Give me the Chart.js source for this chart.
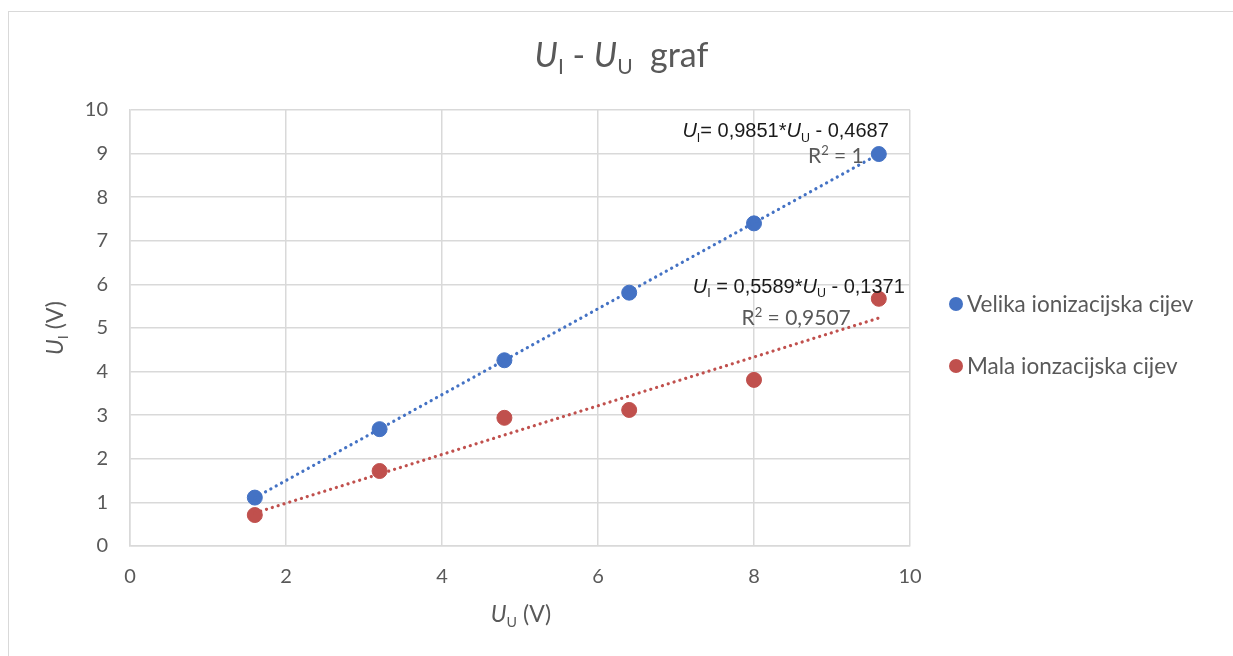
<!DOCTYPE html>
<html>
<head>
<meta charset="utf-8">
<script src="https://cdn.jsdelivr.net/npm/chart.js@4.4.1/dist/chart.umd.min.js"></script>
<style>
    html, body { margin: 0; padding: 0; background: #fff; }
    .frame { position: absolute; left: 8px; top: 11px; width: 1240px; height: 660px;
             border-left: 1px solid #d9d9d9; border-top: 1px solid #d9d9d9; }
    #chart { position: absolute; left: 0; top: 0; }
</style>
</head>
<body>
<div class="frame"></div>
<canvas id="chart" width="1233" height="656"></canvas>
<script>
const seriesNames = ['Velika ionizacijska cijev', 'Mala ionzacijska cijev'];
const seriesColors = ['#4472C4', '#C0504D'];
const xValues = [1.6, 3.2, 4.8, 6.4, 8.0, 9.6];
const velikaValues = [1.11, 2.68, 4.26, 5.81, 7.40, 8.99];
const malaValues = [0.71, 1.72, 2.94, 3.12, 3.81, 5.67];
const trendSlopes = [0.9851, 0.5589];
const trendIntercepts = [-0.4687, -0.1371];
const trendEquations = ['0,9851*', '0,5589*'];
const trendOffsets = [' - 0,4687', ' - 0,1371'];
const rSquared = ['1', '0,9507'];
const xTicks = [0, 2, 4, 6, 8, 10];
const yTicks = [0, 1, 2, 3, 4, 5, 6, 7, 8, 9, 10];

const FONT = 'Lato, "Open Sans", sans-serif';
const ARIAL = '"Liberation Sans", Arial, sans-serif';
const GREY = '#595959';

const allSeries = [velikaValues, malaValues];

const datasets = [];
allSeries.forEach((values, i) => {
    const xFirst = xValues[0];
    const xLast = xValues[xValues.length - 1];
    datasets.push({
        label: seriesNames[i] + ' trend',
        data: [
            { x: xFirst, y: trendSlopes[i] * xFirst + trendIntercepts[i] },
            { x: xLast, y: trendSlopes[i] * xLast + trendIntercepts[i] }
        ],
        showLine: true,
        borderColor: seriesColors[i],
        borderWidth: 3.2,
        borderDash: [0.1, 6],
        borderCapStyle: 'round',
        pointRadius: 0,
        order: 0
    });
    datasets.push({
        label: seriesNames[i],
        data: xValues.map((x, k) => ({ x: x, y: values[k] })),
        backgroundColor: seriesColors[i],
        borderColor: seriesColors[i],
        pointRadius: 7.5,
        order: 1
    });
});

// draw text made of pieces: italic, subscript, superscript
function drawRich(ctx, parts, x, y, align, size, family, color) {
    const fontFor = p => (p.i ? 'italic ' : '') + ((p.sub || p.sup) ? size * 0.62 : size) + 'px ' + family;
    let total = 0;
    parts.forEach(p => { ctx.font = fontFor(p); total += ctx.measureText(p.t).width; });
    let cx = x;
    if (align === 'center') cx = x - total / 2;
    if (align === 'right') cx = x - total;
    ctx.fillStyle = color;
    ctx.textAlign = 'left';
    ctx.textBaseline = 'alphabetic';
    parts.forEach(p => {
        ctx.font = fontFor(p);
        let dy = 0;
        if (p.sub) dy = size * 0.22;
        if (p.sup) dy = -size * 0.38;
        ctx.fillText(p.t, cx, y + dy);
        cx += ctx.measureText(p.t).width;
    });
}

const textPlugin = {
    id: 'textPlugin',
    afterDraw(chart) {
        const ctx = chart.ctx;
        const xs = chart.scales.x;
        const ys = chart.scales.y;
        const area = chart.chartArea;
        ctx.save();

        // title
        drawRich(ctx, [
            { t: 'U', i: true }, { t: 'I', sub: true }, { t: ' - ' },
            { t: 'U', i: true }, { t: 'U', sub: true }, { t: '  graf' }
        ], chart.width / 2 + 5, 67, 'center', 34, FONT, GREY);

        // x axis title
        drawRich(ctx, [
            { t: 'U', i: true }, { t: 'U', sub: true }, { t: ' (V)' }
        ], (area.left + area.right) / 2 + 1, 622, 'center', 23, FONT, GREY);

        // y axis title
        ctx.save();
        ctx.translate(63, (area.top + area.bottom) / 2);
        ctx.rotate(-Math.PI / 2);
        drawRich(ctx, [
            { t: 'U', i: true }, { t: 'I', sub: true }, { t: ' (V)' }
        ], 0, 0, 'center', 23, FONT, GREY);
        ctx.restore();

        // trend equations
        const lastX = xValues[xValues.length - 1];
        const eqPos = [
            { ex: 10, ey: -17, rx: -15, ry: 9 },
            { ex: 26, ey: -25, rx: -28, ry: 7 }
        ];
        allSeries.forEach((values, i) => {
            const px = xs.getPixelForValue(lastX);
            const py = ys.getPixelForValue(trendSlopes[i] * lastX + trendIntercepts[i]);
            const p = eqPos[i];
            drawRich(ctx, [
                { t: 'U', i: true }, { t: 'I', sub: true }, { t: i === 0 ? '= ' : ' = ' },
                { t: trendEquations[i] }, { t: 'U', i: true }, { t: 'U', sub: true },
                { t: trendOffsets[i] }
            ], px + p.ex, py + p.ey, 'right', 20, ARIAL, '#1a1a1a');
            drawRich(ctx, [
                { t: 'R' }, { t: '2', sup: true }, { t: ' = ' + rSquared[i] }
            ], px + p.rx, py + p.ry, 'right', 21, FONT, GREY);
        });

        // legend
        seriesNames.forEach((name, i) => {
            const ly = 304 + i * 62;
            ctx.beginPath();
            ctx.arc(956, ly, 7, 0, Math.PI * 2);
            ctx.fillStyle = seriesColors[i];
            ctx.fill();
            ctx.font = '22.5px ' + FONT;
            ctx.fillStyle = GREY;
            ctx.textAlign = 'left';
            ctx.textBaseline = 'middle';
            ctx.fillText(name, 967, ly + 1);
        });
        ctx.restore();
    }
};

const ctx = document.getElementById('chart').getContext('2d');
new Chart(ctx, {
    type: 'scatter',
    data: { datasets: datasets },
    options: {
        responsive: false,
        animation: false,
        layout: { padding: { left: 20, top: 110, right: 323, bottom: 70 } },
        plugins: {
            legend: { display: false },
            tooltip: { enabled: false },
            title: { display: false }
        },
        scales: {
            x: {
                type: 'linear',
                min: xTicks[0],
                max: xTicks[xTicks.length - 1],
                afterBuildTicks: scale => { scale.ticks = xTicks.map(v => ({ value: v })); },
                afterFit: scale => { scale.height = 40; },
                grid: { color: '#d9d9d9', lineWidth: 1.5, drawTicks: false },
                border: { color: '#d9d9d9', width: 1.5 },
                ticks: { padding: 19, color: GREY, font: { family: FONT, size: 20 } }
            },
            y: {
                type: 'linear',
                min: yTicks[0],
                max: yTicks[yTicks.length - 1],
                afterBuildTicks: scale => { scale.ticks = yTicks.map(v => ({ value: v })); },
                afterFit: scale => { scale.width = 110; },
                grid: { color: '#d9d9d9', lineWidth: 1.5, drawTicks: false },
                border: { color: '#d9d9d9', width: 1.5 },
                ticks: { padding: 22, color: GREY, font: { family: FONT, size: 20 } }
            }
        }
    },
    plugins: [textPlugin]
});
</script>
</body>
</html>
